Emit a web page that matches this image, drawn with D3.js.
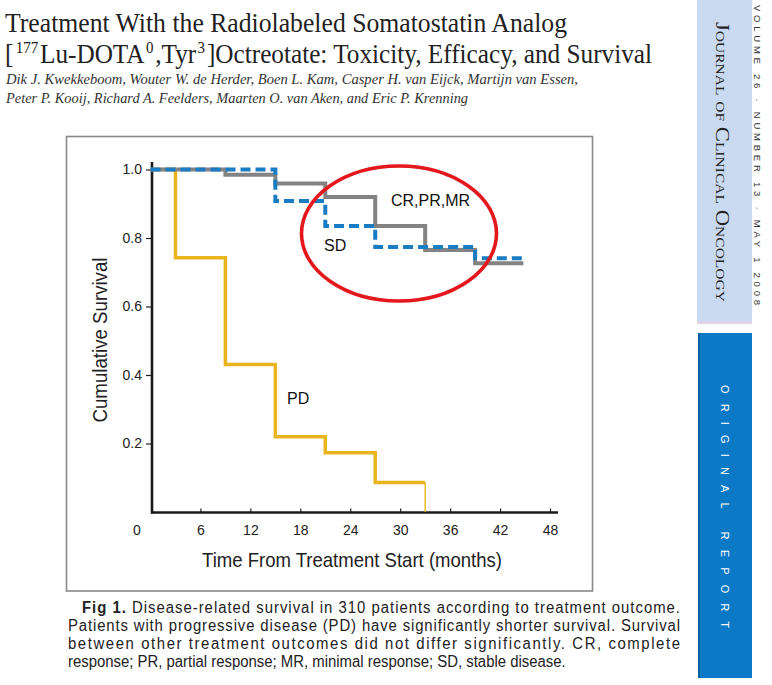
<!DOCTYPE html>
<html><head><meta charset="utf-8">
<script src="https://cdn.jsdelivr.net/npm/d3@7"></script>
<style>
html,body{margin:0;padding:0;background:#fff;}
svg{display:block;}
</style></head>
<body>
<script>
// ---- data ----
const xTicks = [6, 12, 18, 24, 30, 36, 42, 48];
const yTicks = [0.2, 0.4, 0.6, 0.8, 1.0];
const crTimes = [0, 9, 15, 21, 27, 33, 39, 44.8];
const crSurv  = [1.0, 0.985, 0.959, 0.920, 0.835, 0.765, 0.726, 0.726];
const sdTimes = [0, 15, 21, 27, 39, 44.8];
const sdSurv  = [1.0, 0.908, 0.835, 0.774, 0.741, 0.741];
const pdTimes = [0, 3, 9, 15, 21, 27, 33];
const pdSurv  = [1.0, 0.742, 0.431, 0.220, 0.173, 0.086, 0.086];
const pdEnd   = [33, 0.086, 0];
const seriesLabels = ["CR,PR,MR", "SD", "PD"];

const W = 772, H = 685;
const svg = d3.select("body").append("svg").attr("width", W).attr("height", H);

// ---- header ----
const serif = "'Liberation Serif','DejaVu Serif',serif";
svg.append("text").attr("x", 5).attr("y", 32).attr("font-family", serif)
  .attr("font-size", 27).attr("fill", "#222")
  .attr("textLength", 562).attr("lengthAdjust", "spacingAndGlyphs")
  .text("Treatment With the Radiolabeled Somatostatin Analog");
const t2 = svg.append("text").attr("x", 5).attr("y", 63).attr("font-family", serif)
  .attr("font-size", 27).attr("fill", "#222")
  .attr("textLength", 647).attr("lengthAdjust", "spacingAndGlyphs");
t2.append("tspan").text("[");
t2.append("tspan").attr("dx", 2.5).attr("baseline-shift", "10").attr("font-size", 16).text("177");
t2.append("tspan").attr("dx", 2).text("Lu-DOTA");
t2.append("tspan").attr("dx", 1.5).attr("baseline-shift", "10").attr("font-size", 16).text("0");
t2.append("tspan").attr("dx", 2).text(",Tyr");
t2.append("tspan").attr("dx", 1.5).attr("baseline-shift", "10").attr("font-size", 16).text("3");
t2.append("tspan").attr("dx", 2).text("]Octreotate: Toxicity, Efficacy, and Survival");

svg.append("text").attr("x", 6).attr("y", 84).attr("font-family", serif)
  .attr("font-style", "italic").attr("font-size", 14).attr("fill", "#333")
  .attr("textLength", 572).attr("lengthAdjust", "spacingAndGlyphs")
  .text("Dik J. Kwekkeboom, Wouter W. de Herder, Boen L. Kam, Casper H. van Eijck, Martijn van Essen,");
svg.append("text").attr("x", 6).attr("y", 103).attr("font-family", serif)
  .attr("font-style", "italic").attr("font-size", 14).attr("fill", "#333")
  .attr("textLength", 462).attr("lengthAdjust", "spacingAndGlyphs")
  .text("Peter P. Kooij, Richard A. Feelders, Maarten O. van Aken, and Eric P. Krenning");

// ---- sidebar ----
svg.append("rect").attr("x", 697).attr("y", 0).attr("width", 55).attr("height", 322).attr("fill", "#c9d9ef");
svg.append("rect").attr("x", 697).attr("y", 321).attr("width", 55).attr("height", 3).attr("fill", "#e2d3ea");
svg.append("rect").attr("x", 698).attr("y", 333).attr("width", 54).attr("height", 345).attr("fill", "#0b79c6");
svg.append("rect").attr("x", 698).attr("y", 333).attr("width", 2).attr("height", 345).attr("fill", "#0562a6");

svg.append("text").attr("transform", "translate(754,5) rotate(90)")
  .attr("font-family", "'Liberation Sans',Arial,sans-serif").attr("font-size", 9.5).attr("fill", "#333")
  .attr("textLength", 300).attr("lengthAdjust", "spacing")
  .text("VOLUME 26 \u00B7 NUMBER 13 \u00B7 MAY 1 2008");
svg.append("text").attr("transform", "translate(716,22) rotate(90)")
  .attr("font-family", serif).attr("font-size", 19).attr("fill", "#222")
  .attr("font-variant", "small-caps")
  .attr("textLength", 280).attr("lengthAdjust", "spacingAndGlyphs")
  .text("Journal of Clinical Oncology");
svg.append("text").attr("transform", "translate(721,385) rotate(90)")
  .attr("font-family", "'Liberation Sans',Arial,sans-serif").attr("font-size", 11).attr("fill", "#fff")
  .attr("textLength", 243).attr("lengthAdjust", "spacing")
  .text("ORIGINAL REPORT");

// ---- chart frame ----
svg.append("rect").attr("x", 66.5).attr("y", 136.5).attr("width", 526).attr("height", 454.5)
  .attr("fill", "none").attr("stroke", "#8a8a8a").attr("stroke-width", 1.6);

const x = d3.scaleLinear().domain([0, 48]).range([150.5, 550]);
const y = d3.scaleLinear().domain([0, 1]).range([512, 169.5]);
const sans = "'Liberation Sans',Arial,Helvetica,sans-serif";

// y axis
const yAxis = svg.append("g").attr("transform", "translate(152,0)")
  .call(d3.axisLeft(y).tickValues(yTicks).tickFormat(d3.format(".1f")).tickSize(6).tickPadding(4));
yAxis.select(".domain").remove();
yAxis.selectAll(".tick line").attr("stroke", "#222").attr("stroke-width", 1.2);
yAxis.selectAll(".tick text").attr("font-family", sans).attr("font-size", 14).attr("fill", "#222");
svg.append("line").attr("x1", 152).attr("x2", 152).attr("y1", 162).attr("y2", 513.5)
  .attr("stroke", "#1a1a1a").attr("stroke-width", 2.6);

// x axis
const xAxis = svg.append("g").attr("transform", "translate(0,512.5)")
  .call(d3.axisTop(x).tickValues(xTicks).tickFormat(d3.format("d")).tickSize(4));
xAxis.select(".domain").remove();
xAxis.selectAll(".tick line").attr("stroke", "#222").attr("stroke-width", 1.2);
xAxis.selectAll(".tick text").attr("y", 22).attr("dy", 0).attr("font-family", sans)
  .attr("font-size", 14).attr("fill", "#222");
svg.append("text").attr("x", 137).attr("y", 534.5).attr("text-anchor", "middle")
  .attr("font-family", sans).attr("font-size", 14).attr("fill", "#222").text("0");
svg.append("line").attr("x1", 151).attr("x2", 558).attr("y1", 512.5).attr("y2", 512.5)
  .attr("stroke", "#1a1a1a").attr("stroke-width", 2.6);

// axis titles
svg.append("text").attr("x", 352).attr("y", 567).attr("text-anchor", "middle")
  .attr("font-family", sans).attr("font-size", 21).attr("fill", "#222")
  .attr("textLength", 300).attr("lengthAdjust", "spacingAndGlyphs")
  .text("Time From Treatment Start (months)");
svg.append("text").attr("transform", "translate(107,340) rotate(-90)").attr("text-anchor", "middle")
  .attr("font-family", sans).attr("font-size", 21).attr("fill", "#222")
  .attr("textLength", 165).attr("lengthAdjust", "spacingAndGlyphs")
  .text("Cumulative Survival");

// ---- curves ----
const line = d3.line().x(d => x(d[0])).y(d => y(d[1])).curve(d3.curveStepAfter);
const zip = (a, b) => a.map((t, i) => [t, b[i]]);

svg.append("path").datum(zip(pdTimes, pdSurv)).attr("d", line)
  .attr("fill", "none").attr("stroke", "#e8b51e").attr("stroke-width", 3.5);
svg.append("line").attr("x1", x(pdEnd[0])).attr("x2", x(pdEnd[0]))
  .attr("y1", y(pdEnd[1])).attr("y2", y(pdEnd[2]))
  .attr("stroke", "#e8b51e").attr("stroke-width", 1.4);

svg.append("path").datum(zip(crTimes, crSurv)).attr("d", line)
  .attr("fill", "none").attr("stroke", "#838383").attr("stroke-width", 4);
svg.append("path").datum(zip(sdTimes, sdSurv)).attr("d", line)
  .attr("fill", "none").attr("stroke", "#1a7cc3").attr("stroke-width", 4)
  .attr("stroke-dasharray", "10,5");

// red ellipse
svg.append("ellipse").attr("cx", 399).attr("cy", 233.5).attr("rx", 97.5).attr("ry", 67.5)
  .attr("fill", "none").attr("stroke", "#e3171c").attr("stroke-width", 3.6);

// series labels
svg.append("text").attr("x", 391).attr("y", 206).attr("font-family", sans).attr("font-size", 16)
  .attr("fill", "#111").text(seriesLabels[0]);
svg.append("text").attr("x", 324).attr("y", 251).attr("font-family", sans).attr("font-size", 16)
  .attr("fill", "#111").text(seriesLabels[1]);
svg.append("text").attr("x", 287).attr("y", 404).attr("font-family", sans).attr("font-size", 16)
  .attr("fill", "#111").text(seriesLabels[2]);

// ---- caption (narrow glyphs via horizontal scale, justified lines) ----
const cap = [
  {x: 82, y: 613, len: 598, bold: "Fig 1.", text: " Disease-related survival in 310 patients according to treatment outcome."},
  {x: 68, y: 631, len: 612, text: "Patients with progressive disease (PD) have significantly shorter survival. Survival"},
  {x: 68, y: 649, len: 612, text: "between other treatment outcomes did not differ significantly. CR, complete"},
  {x: 68, y: 667, len: 498, text: "response; PR, partial response; MR, minimal response; SD, stable disease."}
];
const capNodes = cap.map(c => {
  const g = svg.append("g");
  const t = g.append("text").attr("x", 0).attr("y", 0).attr("font-family", sans)
    .attr("font-size", 16).attr("fill", "#222");
  if (c.bold) t.append("tspan").attr("font-weight", "bold").text(c.bold);
  t.append("tspan").text(c.text);
  return {g, t, c};
});
const lastNat = capNodes[3].t.node().getComputedTextLength();
const sx = 498 / lastNat;
capNodes.forEach(({g, t, c}, i) => {
  g.attr("transform", `translate(${c.x},${c.y}) scale(${sx},1)`);
  if (i < 3) t.attr("textLength", c.len / sx).attr("lengthAdjust", "spacing");
});
</script>
</body></html>
